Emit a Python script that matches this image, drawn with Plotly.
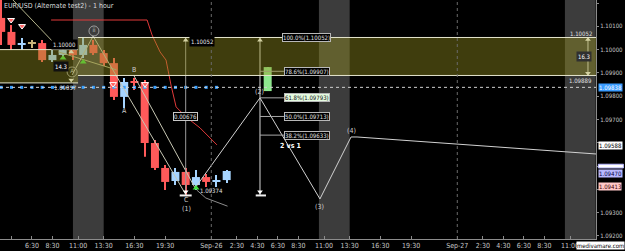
import plotly.graph_objects as go
import pandas as pd

# ---------------- data ----------------
candle_time = ["2019-09-25 03:30", "2019-09-25 04:30", "2019-09-25 05:30", "2019-09-25 06:30",
               "2019-09-25 07:30", "2019-09-25 08:30", "2019-09-25 09:30", "2019-09-25 10:30",
               "2019-09-25 11:30", "2019-09-25 12:30", "2019-09-25 13:30", "2019-09-25 14:30",
               "2019-09-25 15:30", "2019-09-25 16:30", "2019-09-25 17:30", "2019-09-25 18:30",
               "2019-09-25 19:30", "2019-09-25 20:30", "2019-09-25 21:30", "2019-09-25 22:30",
               "2019-09-25 23:30", "2019-09-26 00:30", "2019-09-26 01:30", "2019-09-26 05:30"]
candle_open = [1.10136, 1.10076, 1.10024, 1.10028, 1.10028, 1.09955, 1.09977, 1.09998,
               1.09977, 1.10020, 1.09985, 1.09942, 1.09797, 1.09861, 1.09861, 1.09599,
               1.09492, 1.09436, 1.09475, 1.09419, 1.09453, 1.09436, 1.09440, 1.09822]
candle_high = [1.10230, 1.10106, 1.10050, 1.10041, 1.10041, 1.09998, 1.10020, 1.10020,
               1.10054, 1.10041, 1.09998, 1.09964, 1.09878, 1.09878, 1.09870, 1.09612,
               1.09505, 1.09492, 1.09492, 1.09483, 1.09466, 1.09462, 1.09483, 1.09925]
candle_low = [1.10020, 1.09998, 1.09998, 1.10007, 1.09947, 1.09947, 1.09968, 1.09955,
              1.09964, 1.09977, 1.09930, 1.09784, 1.09749, 1.09827, 1.09540, 1.09483,
              1.09397, 1.09419, 1.09374, 1.09397, 1.09410, 1.09410, 1.09427, 1.09822]
candle_close = [1.10076, 1.10020, 1.10027, 1.10028, 1.09955, 1.09977, 1.09998, 1.09977,
                1.10020, 1.09985, 1.09942, 1.09797, 1.09861, 1.09857, 1.09599, 1.09492,
                1.09432, 1.09475, 1.09419, 1.09453, 1.09432, 1.09440, 1.09479, 1.09925]

# indicator (red) line
ind_time = ["2019-09-25 08:22", "2019-09-25 17:44", "2019-09-25 18:13", "2019-09-25 19:00",
            "2019-09-25 19:35", "2019-09-25 20:04", "2019-09-25 20:34", "2019-09-25 21:32",
            "2019-09-25 22:54", "2019-09-26 00:33"]
ind_price = [1.10127, 1.10127, 1.10063, 1.09990, 1.09955, 1.09848, 1.09754, 1.09711,
             1.09664, 1.09591]

# lower gray curve
low_time = ["2019-09-25 22:35", "2019-09-25 23:28", "2019-09-26 01:35"]
low_price = [1.09397, 1.09363, 1.09328]

# trend lines (tan)
tl1_time = ["2019-09-25 04:39", "2019-09-25 08:45"]
tl1_price = [1.10213, 1.10024]
tl2_time = ["2019-09-25 09:05", "2019-09-25 14:45"]
tl2_price = [1.09990, 1.09913]

# wave lines
wi_time = ["2019-09-25 10:25", "2019-09-25 12:28", "2019-09-25 21:32"]
wi_price = [1.09891, 1.10058, 1.09376]
wb_time = ["2019-09-25 16:28", "2019-09-25 22:25"]
wb_price = [1.09887, 1.09406]
wave_time = ["2019-09-25 22:25", "2019-09-26 04:45", "2019-09-26 10:36", "2019-09-26 13:38",
             "2019-09-26 14:13", "2019-09-27 13:32"]
wave_price = [1.09406, 1.09793, 1.09359, 1.09625, 1.09625, 1.09552]

# fibonacci
fib_high = 1.10052
fib_low = 1.09374
fib_ratios = [1.0, 0.786, 0.618, 0.5, 0.382]

# zones
zone1 = ("2019-09-25 00:00", "2019-09-25 11:00", 1.09857, 1.10000)
zone2 = ("2019-09-25 11:00", "2019-09-28 00:00", 1.09889, 1.10052)
current_bid = 1.09838

sessions = [("2019-09-25 10:30", "2019-09-25 13:30"),
            ("2019-09-26 10:30", "2019-09-26 13:30"),
            ("2019-09-27 10:30", "2019-09-27 13:30")]
day_lines = ["2019-09-26 00:00", "2019-09-27 00:00"]

x_tick_vals = ["2019-09-25 04:30", "2019-09-25 06:30", "2019-09-25 08:30", "2019-09-25 11:00",
               "2019-09-25 13:30", "2019-09-25 16:30", "2019-09-25 19:30", "2019-09-26 00:00",
               "2019-09-26 02:30", "2019-09-26 04:30", "2019-09-26 06:30", "2019-09-26 08:30",
               "2019-09-26 11:00", "2019-09-26 13:30", "2019-09-26 16:30", "2019-09-26 19:30",
               "2019-09-27 00:00", "2019-09-27 02:30", "2019-09-27 04:30", "2019-09-27 06:30",
               "2019-09-27 08:30", "2019-09-27 11:00"]
x_tick_text = ["", "6:30", "8:30", "11:00", "13:30", "16:30", "19:30", "Sep-26",
               "2:30", "4:30", "6:30", "8:30", "11:00", "13:30", "16:30", "19:30",
               "Sep-27", "2:30", "4:30", "6:30", "8:30", "11:00"]
y_tick_vals = [1.092, 1.093, 1.094, 1.095, 1.096, 1.097, 1.098, 1.099, 1.100, 1.101, 1.102]
y_tick_hidden = [1.094, 1.095, 1.096]   # covered by price tags in the reference

# signal markers
sig_red_time = ["2019-09-25 04:28", "2019-09-25 05:32", "2019-09-25 14:25", "2019-09-25 17:32"]
sig_red_price = [1.10127, 1.10101, 1.09852, 1.09852]
sig_green_time = ["2019-09-25 09:32", "2019-09-25 11:30", "2019-09-25 22:31"]
sig_green_price = [1.09964, 1.09947, 1.09406]
arrow_up_time = ["2019-09-25 10:20", "2019-09-25 21:30", "2019-09-26 04:45", "2019-09-27 12:45"]
arrow_up_price = [1.09990, 1.10040, 1.10040, 1.10043]
arrow_dn_time = ["2019-09-25 10:20", "2019-09-25 21:30", "2019-09-26 04:45", "2019-09-27 12:45"]
arrow_dn_price = [1.09870, 1.09390, 1.09390, 1.09898]

# text labels
wave_labels = ["A", "B", "C", "(1)", "(2)", "(3)", "(4)"]
wave_label_time = ["2019-09-25 15:29", "2019-09-25 16:28", "2019-09-25 21:33", "2019-09-25 21:33",
                   "2019-09-26 04:45", "2019-09-26 10:36", "2019-09-26 13:38"]
wave_label_price = [1.09737, 1.09913, 1.09355, 1.09314, 1.09818, 1.09325, 1.09651]

axis_tags = ["1.09838", "1.09588", "1.09470", "1.09413"]
axis_tag_price = [1.09838, 1.09588, 1.09470, 1.09413]
hidden_tag_price = 1.09496

FONT = "Liberation Sans Narrow, DejaVu Sans Condensed, Arial Narrow, Arial, sans-serif"

# ---------------- figure ----------------
fig = go.Figure()

ts = pd.to_datetime(candle_time)
colors = []
for i, (o, c) in enumerate(zip(candle_open, candle_close)):
    if i == len(candle_open) - 1:
        colors.append("#8ee88e")
    elif c > o:
        colors.append("#a6d4ff")
    elif c < o:
        colors.append("#ff5a5a")
    else:
        colors.append("#c8b47a")

body_base = [min(o, c) for o, c in zip(candle_open, candle_close)]
body_h = [max(abs(c - o), 0.00003) for o, c in zip(candle_open, candle_close)]
wick_h = [h - l for h, l in zip(candle_high, candle_low)]
HOUR_MS = 3600000

fig.add_trace(go.Bar(x=ts, base=candle_low, y=wick_h, width=0.1 * HOUR_MS,
                     marker=dict(color=colors, line=dict(width=0)), hoverinfo="skip"))
fig.add_trace(go.Bar(x=ts, base=body_base, y=body_h, width=0.78 * HOUR_MS,
                     marker=dict(color=colors, line=dict(width=0)), hoverinfo="skip"))

# bid markers
fig.add_trace(go.Scatter(x=ts[:-2], y=[current_bid] * (len(ts) - 2), mode="markers",
                         marker=dict(symbol="square", size=3, color="#3aa0ff")))

# lines
fig.add_trace(go.Scatter(x=tl1_time, y=tl1_price, mode="lines", line=dict(color="#b4b48c", width=1)))
fig.add_trace(go.Scatter(x=tl2_time, y=tl2_price, mode="lines", line=dict(color="#b4b48c", width=1)))
fig.add_trace(go.Scatter(x=ind_time, y=ind_price, mode="lines", line=dict(color="#e23a3a", width=1)))
fig.add_trace(go.Scatter(x=low_time, y=low_price, mode="lines", line=dict(color="#8c8c8c", width=1)))
fig.add_trace(go.Scatter(x=wi_time, y=wi_price, mode="lines", line=dict(color="#c8c8b4", width=1)))
fig.add_trace(go.Scatter(x=wb_time, y=wb_price, mode="lines", line=dict(color="#c8c8b4", width=1)))
fig.add_trace(go.Scatter(x=wave_time, y=wave_price, mode="lines", line=dict(color="#d2d2d2", width=1)))

# fib vertical + C vertical
fib_t = "2019-09-26 04:45"
fig.add_trace(go.Scatter(x=[fib_t, fib_t], y=[fib_high, fib_low], mode="lines",
                         line=dict(color="#d8d8d8", width=1)))
fig.add_trace(go.Scatter(x=["2019-09-25 21:30", "2019-09-25 21:30"], y=[fib_high, fib_low + 0.0002],
                         mode="lines", line=dict(color="#9a9a9a", width=1)))
fig.add_trace(go.Scatter(x=["2019-09-27 12:45", "2019-09-27 12:45"], y=[zone2[3], zone2[2]],
                         mode="lines", line=dict(color="#e0e0e0", width=1)))
for tt in [("2019-09-26 04:20", "2019-09-26 05:20"), ("2019-09-25 20:55", "2019-09-25 22:05")]:
    fig.add_trace(go.Scatter(x=list(tt), y=[fib_low, fib_low], mode="lines",
                             line=dict(color="#f0f0f0", width=2)))

fib_price = [fib_low + r * (fib_high - fib_low) for r in fib_ratios]
for r, p in zip(fib_ratios, fib_price):
    x0 = "2019-09-26 04:20" if r == 1.0 else fib_t
    x1 = "2019-09-26 07:00" if r == 1.0 else "2019-09-26 07:24"
    fig.add_trace(go.Scatter(x=[x0, x1], y=[p, p], mode="lines", line=dict(color="#a8a8a8", width=1)))
    fig.add_annotation(x="2019-09-26 09:20", y=p, xref="x", yref="y", showarrow=False,
                       text=f"{r*100:.1f}%({p:.5f})",
                       font=dict(family=FONT, size=6, color="#111111" if r == 0.618 else "#e0e0e0"),
                       bgcolor="#e4fbe0" if r == 0.618 else "#000000",
                       bordercolor="#b8b8b8", borderwidth=1, borderpad=0)

# markers
fig.add_trace(go.Scatter(x=sig_red_time, y=sig_red_price, mode="markers",
                         marker=dict(symbol="triangle-down", size=6, color="#ff6060",
                                     line=dict(color="#ffffff", width=1))))
fig.add_trace(go.Scatter(x=sig_green_time, y=sig_green_price, mode="markers",
                         marker=dict(symbol="triangle-up", size=6, color="#40e040")))
fig.add_trace(go.Scatter(x=arrow_up_time, y=arrow_up_price, mode="markers",
                         marker=dict(symbol="triangle-up", size=5, color="#ffffff")))
fig.add_trace(go.Scatter(x=arrow_dn_time, y=arrow_dn_price, mode="markers",
                         marker=dict(symbol="triangle-down", size=5, color="#ffffff")))

# circled labels
fig.add_trace(go.Scatter(x=["2019-09-25 12:33", "2019-09-25 10:25"], y=[1.10080, 1.09904],
                         mode="markers+text", text=["ii", "A"], textposition="middle center",
                         textfont=dict(family=FONT, size=6, color="#c8c8c8"),
                         marker=dict(symbol="circle-open", size=10, color="#a0a0a0", line=dict(width=1))))

# wave text labels
for t, p, s in zip(wave_label_time, wave_label_price, wave_labels):
    fig.add_annotation(x=t, y=p, text=s, showarrow=False,
                       font=dict(family=FONT, size=7, color="#d0d0d0"))
fig.add_annotation(x="2019-09-26 07:41", y=1.09586, text="<b>2 vs 1</b>", showarrow=False,
                   font=dict(family=FONT, size=7, color="#ffffff"))
fig.add_annotation(x="2019-09-25 22:40", y=1.09397, text="1.09374", showarrow=False, xanchor="left",
                   font=dict(family=FONT, size=6, color="#e0e0e0"))
fig.add_annotation(x="2019-09-25 21:30", y=1.09715, text="0.00676", showarrow=False,
                   font=dict(family=FONT, size=6, color="#e0e0e0"), bgcolor="#000000",
                   bordercolor="#c8c8c8", borderwidth=1, borderpad=0)
fig.add_annotation(x="2019-09-25 21:50", y=1.10033, text="1.10052", showarrow=False, xanchor="left",
                   font=dict(family=FONT, size=6, color="#e8e8e8"), bgcolor="#000000")
fig.add_annotation(x="2019-09-25 11:00", y=1.10020, text="1.10000", showarrow=False, xanchor="right",
                   font=dict(family=FONT, size=6, color="#e8e8e8"), bgcolor="#000000")
fig.add_annotation(x="2019-09-25 11:00", y=1.09838, text="1.09857", showarrow=False, xanchor="right",
                   font=dict(family=FONT, size=6, color="#d8d8d8"))
fig.add_annotation(x="2019-09-25 09:20", y=1.09928, text="14.3", showarrow=False,
                   font=dict(family=FONT, size=6, color="#ffffff"), bgcolor="#101010")
fig.add_annotation(x="2019-09-27 13:20", y=1.10071, text="1.10052", showarrow=False, xanchor="right",
                   font=dict(family=FONT, size=6, color="#e0e0e0"))
fig.add_annotation(x="2019-09-27 13:20", y=1.09868, text="1.09889", showarrow=False, xanchor="right",
                   font=dict(family=FONT, size=6, color="#e0e0e0"))
fig.add_annotation(x="2019-09-27 12:20", y=1.09970, text="16.3", showarrow=False,
                   font=dict(family=FONT, size=6, color="#ffffff"), bgcolor="#303030")

# title
fig.add_annotation(xref="paper", yref="paper", x=0.003, y=1.0, xanchor="left", yanchor="top",
                   text="EUR/USD (Alternate test2) - 1 hour", showarrow=False,
                   font=dict(family=FONT, size=7, color="#dcdcdc"))

# axis price tags
tag_style = {"1.09838": ("#3a9cff", "#ffffff"), "1.09588": ("#ffffff", "#000000"),
             "1.09470": ("#b8b8ff", "#000040"), "1.09413": ("#ffc8c8", "#400000")}
for s, p in zip(axis_tags, axis_tag_price):
    bg, fc = tag_style[s]
    fig.add_annotation(xref="paper", yref="y", x=1.0, y=p, xanchor="left", xshift=2,
                       text=s, showarrow=False, bgcolor=bg, borderpad=0,
                       font=dict(family=FONT, size=6, color=fc))
fig.add_annotation(xref="paper", yref="paper", x=1.049, y=-0.028, xanchor="right", yanchor="middle",
                   text="medivamare.com", showarrow=False, bgcolor="#ffffff", borderpad=0,
                   font=dict(family=FONT, size=6, color="#000000"))

# shapes
shapes = []
for a, b in sessions:
    shapes.append(dict(type="rect", xref="x", yref="paper", x0=a, x1=b, y0=0, y1=1,
                       fillcolor="#3c3c3c", line=dict(width=0), layer="below"))
for z in (zone1, zone2):
    shapes.append(dict(type="rect", xref="x", yref="y", x0=z[0], x1=z[1], y0=z[2], y1=z[3],
                       fillcolor="rgba(150,145,30,0.42)", line=dict(width=0), layer="above"))
    for yy in (z[2], z[3]):
        shapes.append(dict(type="line", xref="x", yref="y", x0=z[0], x1=z[1], y0=yy, y1=yy,
                           line=dict(color="#e4e4cc", width=1), layer="above"))
shapes.append(dict(type="line", xref="paper", yref="y", x0=0, x1=1, y0=current_bid, y1=current_bid,
                   line=dict(color="#d0d0d0", width=1, dash="dot"), layer="above"))
for d in day_lines:
    shapes.append(dict(type="line", xref="x", yref="paper", x0=d, x1=d, y0=0, y1=1,
                       line=dict(color="#6a6a6a", width=1, dash="dot"), layer="above"))
# partly hidden tag behind the 1.09470 tag
shapes.append(dict(type="rect", xref="paper", yref="y", x0=1.004, x1=1.046,
                   y0=hidden_tag_price - 0.00004, y1=hidden_tag_price + 0.00012,
                   fillcolor="#ffffff", line=dict(color="#b8b8ff", width=1), layer="above"))

fig.update_layout(
    width=625, height=251, autosize=False,
    margin=dict(l=0, r=29, t=0, b=12, pad=0),
    paper_bgcolor="#000000", plot_bgcolor="#000000",
    showlegend=False, barmode="overlay", shapes=shapes,
    font=dict(family=FONT, size=7, color="#c8c8c8"),
    xaxis=dict(type="date", range=["2019-09-25 03:23", "2019-09-27 13:32"],
               tickvals=x_tick_vals, ticktext=x_tick_text, showgrid=False, zeroline=False,
               showline=True, linecolor="#8c8c8c", ticks="inside", ticklen=3, tickcolor="#8c8c8c",
               tickfont=dict(family=FONT, size=7, color="#c8c8c8"), automargin=False),
    yaxis=dict(side="right", range=[1.091871, 1.102129], tickvals=y_tick_vals,
               ticktext=["" if v in y_tick_hidden else f"{v:.5f}" for v in y_tick_vals],
               showgrid=False, zeroline=False,
               showline=True, linecolor="#8c8c8c", ticks="outside", ticklen=2, tickcolor="#8c8c8c",
               tickfont=dict(family=FONT, size=6, color="#c8c8c8"), automargin=False),
)

fig.write_html("out.html")
